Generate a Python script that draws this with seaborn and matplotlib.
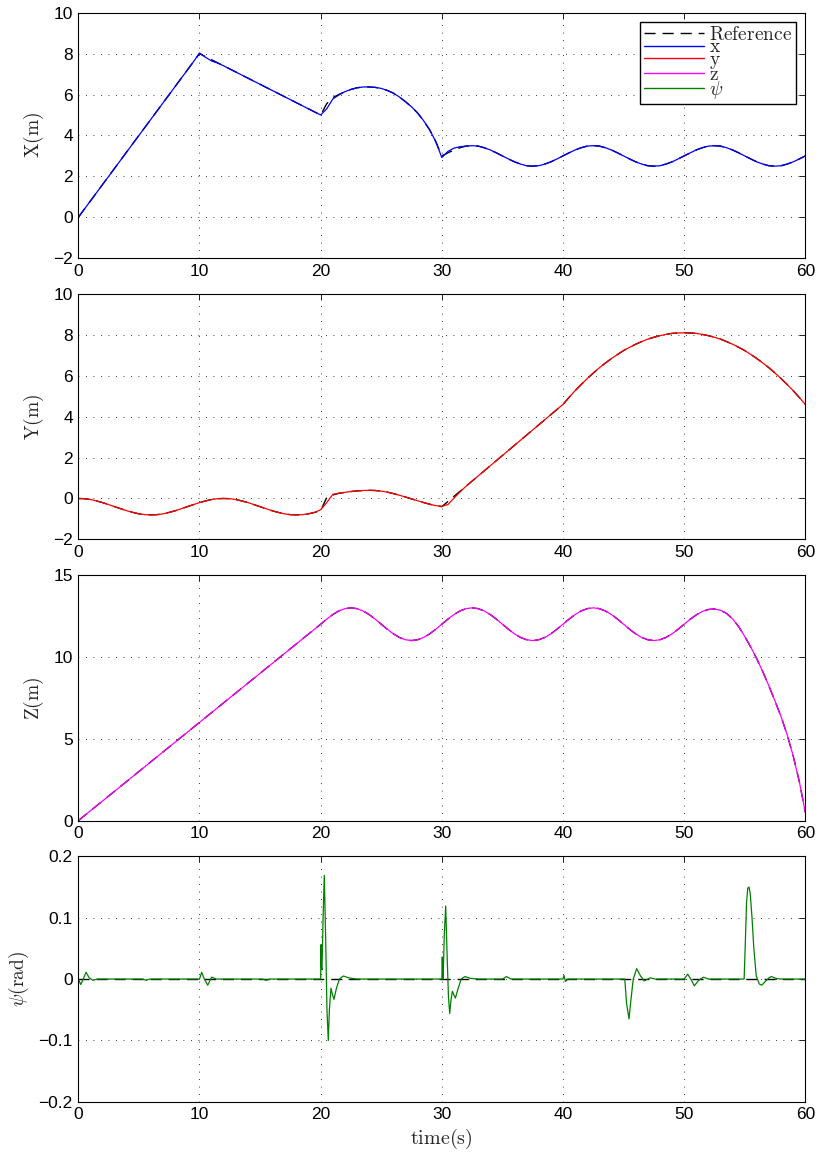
import numpy as np
import matplotlib
matplotlib.use("Agg")
import matplotlib.pyplot as plt
from matplotlib.lines import Line2D
import seaborn as sns

# ---------------- data ----------------
time = np.arange(0, 60.5, 0.5)  # sampling grid, 0.5 s

x_ref = [0.0, 0.4, 0.8, 1.2, 1.6, 2.0, 2.4, 2.8, 3.2, 3.6, 4.0, 4.4, 4.8, 5.2, 5.6, 6.0, 6.4, 6.8, 7.2, 7.6, 8.0,
         7.85, 7.7, 7.55, 7.4, 7.25, 7.1, 6.95, 6.8, 6.65, 6.5, 6.35, 6.2, 6.05, 5.9, 5.75, 5.6, 5.45, 5.3, 5.15, 5.0,
         5.55, 5.85, 6.0, 6.14, 6.25, 6.33, 6.37, 6.37, 6.35, 6.3, 6.2, 6.07, 5.88, 5.65, 5.4, 5.1, 4.72, 4.27, 3.7, 3.0,
         3.15, 3.29, 3.4, 3.48, 3.5, 3.48, 3.4, 3.29, 3.15, 3.0, 2.85, 2.71, 2.6, 2.52, 2.5, 2.52, 2.6, 2.71, 2.85, 3.0,
         3.15, 3.29, 3.4, 3.48, 3.5, 3.48, 3.4, 3.29, 3.15, 3.0, 2.85, 2.71, 2.6, 2.52, 2.5, 2.52, 2.6, 2.71, 2.85, 3.0,
         3.15, 3.29, 3.4, 3.48, 3.5, 3.48, 3.4, 3.29, 3.15, 3.0, 2.85, 2.71, 2.6, 2.52, 2.5, 2.52, 2.6, 2.71, 2.85, 3.0]

x_act = [0.0, 0.4, 0.8, 1.2, 1.6, 2.0, 2.4, 2.8, 3.2, 3.6, 4.0, 4.4, 4.8, 5.2, 5.6, 6.0, 6.4, 6.8, 7.2, 7.6, 8.03,
         7.82, 7.64, 7.54, 7.4, 7.25, 7.1, 6.95, 6.8, 6.65, 6.5, 6.35, 6.2, 6.05, 5.9, 5.75, 5.6, 5.45, 5.3, 5.15, 5.0,
         5.3, 5.78, 5.98, 6.14, 6.25, 6.33, 6.37, 6.37, 6.35, 6.3, 6.2, 6.07, 5.88, 5.65, 5.4, 5.1, 4.72, 4.27, 3.7, 2.92,
         3.22, 3.38, 3.45, 3.48, 3.5, 3.48, 3.4, 3.29, 3.15, 3.0, 2.85, 2.71, 2.6, 2.52, 2.5, 2.52, 2.6, 2.71, 2.85, 3.0,
         3.15, 3.29, 3.4, 3.48, 3.5, 3.48, 3.4, 3.29, 3.15, 3.0, 2.85, 2.71, 2.6, 2.52, 2.5, 2.52, 2.6, 2.71, 2.85, 3.0,
         3.15, 3.29, 3.4, 3.48, 3.5, 3.48, 3.4, 3.29, 3.15, 3.0, 2.85, 2.71, 2.6, 2.52, 2.5, 2.52, 2.6, 2.71, 2.85, 3.0]

y_ref = [0.0, -0.01, -0.05, -0.12, -0.2, -0.3, -0.4, -0.5, -0.6, -0.68, -0.75, -0.79, -0.8, -0.79, -0.75, -0.68, -0.6, -0.5, -0.4, -0.3, -0.2,
         -0.12, -0.05, -0.01, 0.0, -0.01, -0.05, -0.12, -0.2, -0.3, -0.4, -0.5, -0.6, -0.68, -0.75, -0.79, -0.8, -0.79, -0.75, -0.68, -0.6,
         0.05, 0.17, 0.25, 0.3, 0.34, 0.37, 0.39, 0.4, 0.39, 0.36, 0.31, 0.24, 0.16, 0.07, -0.02, -0.11, -0.2, -0.28, -0.35, -0.4,
         -0.15, 0.1, 0.35, 0.6, 0.85, 1.1, 1.35, 1.6, 1.85, 2.1, 2.35, 2.6, 2.85, 3.1, 3.35, 3.6, 3.85, 4.1, 4.35, 4.6,
         4.94, 5.27, 5.57, 5.86, 6.13, 6.39, 6.62, 6.84, 7.04, 7.23, 7.39, 7.54, 7.67, 7.79, 7.88, 7.96, 8.02, 8.07, 8.09, 8.1,
         8.09, 8.07, 8.02, 7.96, 7.88, 7.79, 7.67, 7.54, 7.39, 7.23, 7.04, 6.84, 6.62, 6.39, 6.13, 5.86, 5.57, 5.27, 4.94, 4.6]

y_act = [0.0, -0.01, -0.05, -0.12, -0.2, -0.3, -0.4, -0.5, -0.6, -0.68, -0.75, -0.79, -0.8, -0.79, -0.75, -0.68, -0.6, -0.5, -0.4, -0.3, -0.2,
         -0.12, -0.05, -0.01, 0.0, -0.01, -0.05, -0.12, -0.2, -0.3, -0.4, -0.5, -0.6, -0.68, -0.75, -0.79, -0.8, -0.79, -0.75, -0.68, -0.55,
         -0.2, 0.2, 0.26, 0.3, 0.34, 0.37, 0.39, 0.4, 0.39, 0.36, 0.31, 0.24, 0.16, 0.07, -0.02, -0.11, -0.2, -0.28, -0.35, -0.38,
         -0.3, 0.02, 0.32, 0.6, 0.85, 1.1, 1.35, 1.6, 1.85, 2.1, 2.35, 2.6, 2.85, 3.1, 3.35, 3.6, 3.85, 4.1, 4.35, 4.6,
         4.94, 5.27, 5.57, 5.86, 6.13, 6.39, 6.62, 6.84, 7.04, 7.23, 7.39, 7.54, 7.67, 7.79, 7.88, 7.96, 8.02, 8.07, 8.09, 8.1,
         8.09, 8.07, 8.02, 7.96, 7.88, 7.79, 7.67, 7.54, 7.39, 7.23, 7.04, 6.84, 6.62, 6.39, 6.13, 5.86, 5.57, 5.27, 4.94, 4.6]

z_ref = [0.0, 0.3, 0.6, 0.9, 1.2, 1.5, 1.8, 2.1, 2.4, 2.7, 3.0, 3.3, 3.6, 3.9, 4.2, 4.5, 4.8, 5.1, 5.4, 5.7, 6.0,
         6.3, 6.6, 6.9, 7.2, 7.5, 7.8, 8.1, 8.4, 8.7, 9.0, 9.3, 9.6, 9.9, 10.2, 10.5, 10.8, 11.1, 11.4, 11.7, 12.0,
         12.31, 12.59, 12.81, 12.95, 13.0, 12.95, 12.81, 12.59, 12.31, 12.0, 11.69, 11.41, 11.19, 11.05, 11.0, 11.05, 11.19, 11.41, 11.69, 12.0,
         12.31, 12.59, 12.81, 12.95, 13.0, 12.95, 12.81, 12.59, 12.31, 12.0, 11.69, 11.41, 11.19, 11.05, 11.0, 11.05, 11.19, 11.41, 11.69, 12.0,
         12.31, 12.59, 12.81, 12.95, 13.0, 12.95, 12.81, 12.59, 12.31, 12.0, 11.69, 11.41, 11.19, 11.05, 11.0, 11.05, 11.19, 11.41, 11.69, 12.0,
         12.3, 12.57, 12.78, 12.9, 12.93, 12.85, 12.66, 12.32, 11.85, 11.25, 10.6, 9.88, 9.08, 8.22, 7.3, 6.35, 5.25, 3.95, 2.4, 0.5]
z_act = list(z_ref)

psi_time = [0.0, 0.2, 0.4, 0.64, 0.9, 1.2, 1.6, 5.3, 5.6, 5.9,
            10.0, 10.18, 10.4, 10.68, 11.0, 11.4, 15.2, 15.5, 15.8,
            20.0, 20.03, 20.06, 20.11, 20.2, 20.3, 20.42, 20.52, 20.63, 20.72, 20.85, 20.97, 21.1, 21.3, 21.55, 21.87, 22.3, 23.0,
            30.0, 30.04, 30.08, 30.12, 30.2, 30.32, 30.45, 30.55, 30.65, 30.75, 30.87, 31.0, 31.12, 31.35, 31.6, 31.9, 32.4, 33.0,
            35.0, 35.35, 35.7, 40.0, 40.08, 40.2, 40.4,
            45.1, 45.25, 45.45, 45.6, 45.8, 46.08, 46.4, 46.7, 47.2, 47.6,
            50.0, 50.29, 50.55, 50.84, 51.2, 51.6, 52.0,
            54.95, 55.05, 55.15, 55.25, 55.35, 55.45, 55.6, 55.75, 55.95, 56.2, 56.4, 56.7, 57.0, 57.2, 57.6, 58.0, 60.0]
psi_act = [0.0, -0.009, 0.0, 0.011, 0.002, -0.002, 0.0, 0.0, -0.002, 0.0,
           0.0, 0.011, 0.0, -0.01, 0.003, 0.0, 0.0, -0.002, 0.0,
           0.0, 0.056, 0.02, 0.015, 0.1, 0.169, 0.06, -0.05, -0.1, -0.05, -0.015, -0.025, -0.033, -0.015, 0.0, 0.005, 0.002, 0.0,
           0.0, 0.036, 0.0, 0.01, 0.07, 0.119, 0.03, -0.03, -0.056, -0.035, -0.02, -0.026, -0.031, -0.015, 0.0, 0.004, 0.001, 0.0,
           0.0, 0.004, 0.0, 0.0, 0.006, -0.004, 0.0,
           0.0, -0.04, -0.065, -0.035, 0.0, 0.017, 0.005, -0.003, 0.002, 0.0,
           0.0, 0.008, 0.0, -0.011, -0.002, 0.003, 0.0,
           0.0, 0.06, 0.125, 0.148, 0.15, 0.14, 0.1, 0.05, 0.005, -0.008, -0.01, -0.004, 0.002, 0.004, 0.001, 0.0, 0.0]
psi_ref_time = [0.0, 60.0]
psi_ref = [0.0, 0.0]

x_ticks = [0, 10, 20, 30, 40, 50, 60]
xy_yticks = [-2, 0, 2, 4, 6, 8, 10]
z_yticks = [0, 5, 10, 15]
psi_yticks = [-0.2, -0.1, 0.0, 0.1, 0.2]
psi_yticklabels = ["\u22120.2", "\u22120.1", "0", "0.1", "0.2"]

legend_labels = [r"$\mathrm{Reference}$", r"$\mathrm{x}$", r"$\mathrm{y}$", r"$\mathrm{z}$", r"$\psi$"]
ylabels = [r"$\mathrm{X(m)}$", r"$\mathrm{Y(m)}$", r"$\mathrm{Z(m)}$", r"$\psi\mathrm{(rad)}$"]

# ---------------- style ----------------
sns.set_style("white")
plt.rcParams["font.family"] = ["Liberation Sans", "DejaVu Sans"]
plt.rcParams["mathtext.fontset"] = "cm"
plt.rcParams["axes.unicode_minus"] = True

BLUE = (0, 0, 1)
RED = (1, 0, 0)
MAG = (1, 0, 1)
GREEN = (0, 0.5, 0)
REF_LS = (0, (8, 5))

fig, axes = plt.subplots(4, 1, figsize=(8.21, 11.57), dpi=100)
fig.subplots_adjust(left=0.0954, right=0.9809, top=0.98902, bottom=0.04771, hspace=0.1454)

series = [
    (time, x_ref, time, x_act, BLUE, (-2, 10), xy_yticks, None),
    (time, y_ref, time, y_act, RED, (-2, 10), xy_yticks, None),
    (time, z_ref, time, z_act, MAG, (0, 15), z_yticks, None),
    (psi_ref_time, psi_ref, psi_time, psi_act, GREEN, (-0.2, 0.2), psi_yticks, psi_yticklabels),
]

for ax, (tr, vr, ta, va, col, ylim, yt, ytl), lab in zip(axes, series, ylabels):
    sns.lineplot(x=tr, y=vr, ax=ax, color="k", linestyle=REF_LS, linewidth=1.0,
                 errorbar=None, legend=False, sort=False)
    sns.lineplot(x=ta, y=va, ax=ax, color=col, linewidth=0.9,
                 errorbar=None, legend=False, sort=False)
    ax.set_xlim(0, 60)
    ax.set_ylim(*ylim)
    ax.set_xticks(x_ticks)
    ax.set_yticks(yt)
    if ytl is not None:
        ax.set_yticklabels(ytl)
    ax.grid(True, color="k", linestyle=(0, (1, 8)), linewidth=0.6)
    ax.set_axisbelow(True)
    for s in ax.spines.values():
        s.set_visible(True)
        s.set_color("k")
        s.set_linewidth(0.8)
    ax.tick_params(direction="in", top=True, right=True, length=4, width=0.6,
                   labelsize=12.5, pad=4, colors="k")
    ax.set_ylabel(lab, fontsize=14, labelpad=5)
    ax.set_xlabel("")

axes[-1].set_xlabel(r"$\mathrm{time(s)}$", fontsize=14.5, labelpad=3)

handles = [Line2D([], [], color="k", linestyle=REF_LS, linewidth=1.0),
           Line2D([], [], color=BLUE, linewidth=1.0),
           Line2D([], [], color=RED, linewidth=1.0),
           Line2D([], [], color=MAG, linewidth=1.0),
           Line2D([], [], color=GREEN, linewidth=1.0)]
leg = axes[0].legend(handles, legend_labels, loc="upper right", fontsize=14,
                     labelspacing=-0.26, handlelength=3.1, handletextpad=0.25,
                     borderpad=0.18, borderaxespad=0.5, frameon=True, fancybox=False)
leg.get_frame().set_edgecolor("k")
leg.get_frame().set_linewidth(1.0)
leg.get_frame().set_alpha(1)

fig.savefig("out.png", dpi=100)
